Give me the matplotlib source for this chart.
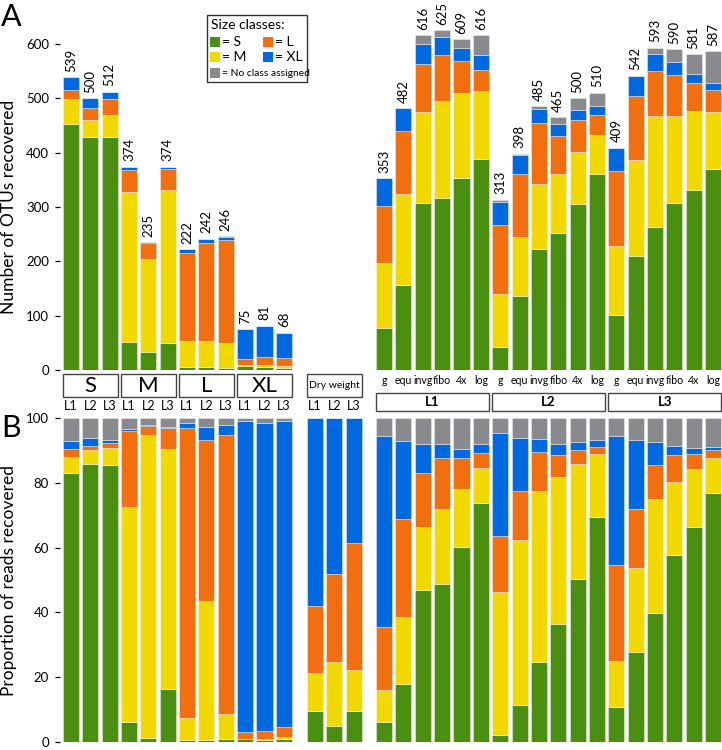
import matplotlib
matplotlib.use('Agg')
import matplotlib.pyplot as plt
import matplotlib.transforms as mtransforms
from matplotlib.patches import Rectangle
import numpy as np

# ---------------- colours ----------------
C_S, C_M, C_L, C_XL, C_NA = '#4a8f10', '#f0d800', '#f26f10', '#0068e0', '#888a8d'
COLORS = [C_S, C_M, C_L, C_XL, C_NA]

# ---------------- data ----------------
size_groups = ['S', 'M', 'L', 'XL']
replicates = ['L1', 'L2', 'L3']
methods = ['g', 'equ', 'invg', 'fibo', '4x', 'log']
lakes = ['L1', 'L2', 'L3']

# Panel A: number of OTUs (size fractions S, M, L, XL x L1-L3)
otuA_left_S = [453, 428, 428, 52, 33, 50, 6, 6, 4, 7, 5, 3]
otuA_left_M = [45, 32, 42, 276, 172, 281, 47, 47, 46, 3, 4, 5]
otuA_left_L = [18, 23, 29, 40, 29, 39, 163, 181, 189, 10, 15, 15]
otuA_left_XL = [23, 17, 13, 6, 1, 4, 6, 8, 5, 55, 57, 45]
otuA_left_NA = [0, 0, 0, 0, 0, 0, 0, 0, 2, 0, 0, 0]
otuA_left_total = [539, 500, 512, 374, 235, 374, 222, 242, 246, 75, 81, 68]

# Panel A: pooled samples (L1 / L2 / L3 x g, equ, invg, fibo, 4x, log)
otuA_right_S = [78, 156, 308, 316, 353, 388, 42, 137, 222, 253, 305, 361, 102, 209, 263, 307, 331, 370]
otuA_right_M = [119, 168, 167, 180, 156, 125, 97, 108, 120, 107, 96, 71, 126, 178, 205, 161, 146, 105]
otuA_right_L = [105, 116, 89, 83, 60, 40, 127, 115, 113, 70, 60, 37, 138, 117, 83, 75, 51, 40]
otuA_right_XL = [51, 42, 36, 33, 24, 26, 43, 36, 26, 22, 18, 16, 43, 37, 31, 24, 17, 13]
otuA_right_NA = [0, 0, 16, 13, 16, 37, 4, 2, 4, 13, 21, 25, 0, 1, 11, 23, 36, 59]
otuA_right_total = [353, 482, 616, 625, 609, 616, 313, 398, 485, 465, 500, 510, 409, 542, 593, 590, 581, 587]

# Panel B: proportion of reads (%)
readB_left_S = [83.0, 85.8, 85.6, 6.1, 1.1, 16.2, 0.4, 0.4, 0.8, 0.8, 0.4, 0.8]
readB_left_M = [5.1, 4.3, 5.1, 66.6, 93.6, 74.2, 6.9, 43.0, 7.9, 0.1, 0.5, 0.5]
readB_left_L = [2.4, 1.2, 1.6, 23.5, 3.0, 6.7, 89.8, 50.0, 86.0, 2.1, 2.5, 3.3]
readB_left_XL = [2.4, 2.6, 1.0, 0.6, 0.1, 0.2, 1.4, 3.9, 3.3, 96.2, 95.2, 94.7]
readB_left_NA = [7.1, 6.1, 6.7, 3.2, 2.2, 2.7, 1.5, 2.7, 2.0, 0.8, 1.4, 0.7]

# Panel B: dry weight (%)
dry_S = [9.5, 4.8, 9.5]
dry_M = [11.8, 19.7, 12.7]
dry_L = [20.7, 27.4, 39.2]
dry_XL = [58.0, 48.1, 38.6]
dry_NA = [0.0, 0.0, 0.0]

# Panel B: pooled samples (%)
readB_right_S = [6.2, 17.7, 46.9, 48.8, 60.1, 73.7, 2.2, 11.5, 24.7, 36.5, 50.4, 69.6, 10.6, 27.8, 39.7, 57.7, 66.5, 76.9]
readB_right_M = [9.8, 21.0, 19.6, 23.2, 18.1, 10.8, 44.0, 50.8, 52.8, 45.5, 35.6, 19.4, 14.3, 25.9, 35.4, 22.5, 17.9, 10.8]
readB_right_L = [19.6, 30.2, 16.5, 15.8, 9.4, 4.8, 17.5, 15.1, 12.2, 6.6, 4.3, 2.0, 29.8, 18.1, 10.6, 8.5, 4.7, 2.5]
readB_right_XL = [59.0, 24.2, 9.1, 4.3, 2.9, 2.6, 31.9, 16.4, 3.9, 3.6, 2.5, 2.3, 39.9, 21.5, 7.0, 2.8, 1.7, 0.9]
readB_right_NA = [5.4, 6.9, 7.9, 7.9, 9.5, 8.1, 4.4, 6.2, 6.4, 7.8, 7.2, 6.7, 5.4, 6.7, 7.3, 8.5, 9.2, 8.9]

# ---------------- fonts ----------------
MAIN = ['Lato', 'DejaVu Sans']
plt.rcParams['font.family'] = MAIN

# ---------------- layout ----------------
W, H = 722, 750
fig = plt.figure(figsize=(W / 100, H / 100), dpi=100)

x_left = np.arange(12, dtype=float)
x_dry = 12.6 + np.arange(3)
x_right = 16.18 + np.arange(18)
BW = 0.83
XLIM = (-0.5685, 33.64)

axA = fig.add_axes([60 / W, 380 / H, 662 / W, 370 / H])
axB = fig.add_axes([60 / W, 8.3 / H, 662 / W, 323.4 / H])
ov = fig.add_axes([0, 0, 1, 1])
ov.set_xlim(0, W)
ov.set_ylim(H, 0)
ov.axis('off')

EDGE = (1, 1, 1, 0.45)


def stack(ax, x, layers):
    bottom = np.zeros(len(x))
    for vals, col in zip(layers, COLORS):
        v = np.asarray(vals, dtype=float)
        ax.bar(x, v, bottom=bottom, width=BW, color=col, edgecolor=EDGE, linewidth=0.6)
        bottom += v


stack(axA, x_left, [otuA_left_S, otuA_left_M, otuA_left_L, otuA_left_XL, otuA_left_NA])
stack(axA, x_right, [otuA_right_S, otuA_right_M, otuA_right_L, otuA_right_XL, otuA_right_NA])
stack(axB, x_left, [readB_left_S, readB_left_M, readB_left_L, readB_left_XL, readB_left_NA])
stack(axB, x_dry, [dry_S, dry_M, dry_L, dry_XL, dry_NA])
stack(axB, x_right, [readB_right_S, readB_right_M, readB_right_L, readB_right_XL, readB_right_NA])

for xs, tots in [(x_left, otuA_left_total), (x_right, otuA_right_total)]:
    for xv, t in zip(xs, tots):
        axA.annotate(str(t), (xv, t), xytext=(0, 4), textcoords='offset points',
                     rotation=90, ha='center', va='bottom', fontsize=9.5)

axA.set_ylim(0, 681)
axA.set_yticks(np.arange(0, 601, 100))
axB.set_ylim(0, 100)
axB.set_yticks(np.arange(0, 101, 20))
for ax in (axA, axB):
    ax.set_xlim(*XLIM)
    ax.set_xticks([])
    for s in ax.spines.values():
        s.set_visible(False)
    ax.tick_params(axis='y', direction='out', length=3.6, width=0.9, pad=4.3, labelsize=9.5)
    ax.patch.set_visible(False)

# axis labels and panel letters
fig.text(9 / W, 1 - 207 / H, 'Number of OTUs recovered', rotation=90, ha='center', va='center', fontsize=12.5)
fig.text(9 / W, 1 - 580 / H, 'Proportion of reads recovered', rotation=90, ha='center', va='center', fontsize=12.5)
fig.text(1 / W, 1 - 17 / H, 'A', ha='left', va='center', fontsize=22)
fig.text(1 / W, 1 - 428 / H, 'B', ha='left', va='center', fontsize=22)

# blended transform: x from data, y in figure pixels (top-down)
trA = mtransforms.blended_transform_factory(axA.transData, ov.transData)

BOXC = '#444444'


def group_box(x0, x1, y0, y1, label, fs, weight='normal'):
    ov.add_patch(Rectangle((x0, y0), x1 - x0, y1 - y0, transform=trA, fill=False,
                           edgecolor=BOXC, linewidth=1.0, clip_on=False))
    ov.text((x0 + x1) / 2, (y0 + y1) / 2 + 0.5, label, transform=trA, ha='center', va='center',
            fontsize=fs, fontweight=weight)


for gi, g in enumerate(size_groups):
    xs = x_left[3 * gi:3 * gi + 3]
    group_box(xs[0] - BW / 2, xs[-1] + BW / 2, 374, 397, g, 16)
group_box(x_dry[0] - BW / 2, x_dry[-1] + BW / 2, 374, 397, 'Dry weight', 7.5)

for xv, r in zip(np.concatenate([x_left, x_dry]), replicates * 5):
    ov.text(xv, 406, r, transform=trA, ha='center', va='center', fontsize=9)

for li, lk in enumerate(lakes):
    xs = x_right[6 * li:6 * li + 6]
    group_box(xs[0] - BW / 2, xs[-1] + BW / 2, 393, 411, lk, 9.5, weight='bold')
for xv, m in zip(x_right, methods * 3):
    ov.text(xv, 381, m, transform=trA, ha='center', va='center', fontsize=7.6)

# legend box
ov.add_patch(Rectangle((207, 15), 100, 67, fill=False, edgecolor='#333333', linewidth=1.0))
ov.text(211, 25, 'Size classes:', ha='left', va='center', fontsize=10)
leg_items = [(C_S, '= S', 210, 42), (C_L, '= L', 263, 42), (C_M, '= M', 210, 57),
             (C_XL, '= XL', 263, 57), (C_NA, '= No class assigned', 210, 73)]
for col, lab, lx, ly in leg_items:
    ov.add_patch(Rectangle((lx, ly - 5), 10, 10, facecolor=col, edgecolor='none'))
    ov.text(lx + 12, ly, lab, ha='left', va='center', fontsize=10 if 'No' not in lab else 7.4)

fig.savefig('out.png', dpi=100)
